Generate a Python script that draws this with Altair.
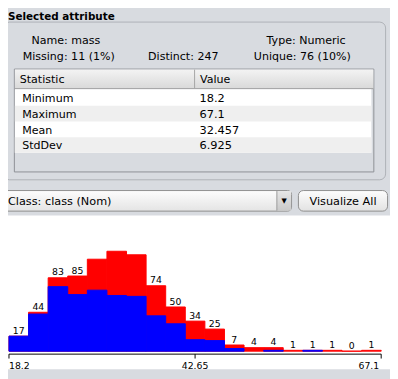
import altair as alt
import pandas as pd

# ---- data (Weka "Selected attribute" panel, attribute mass) ----
attr_name = "mass"
attr_type = "Numeric"
attr_missing = "11 (1%)"
attr_distinct = "247"
attr_unique = "76 (10%)"
class_label = "Class: class (Nom)"
button_label = "Visualize All"

stat_names = ["Minimum", "Maximum", "Mean", "StdDev"]
stat_values = ["18.2", "67.1", "32.457", "6.925"]

bin_min = 18.2
bin_max = 67.1
totals = [17, 44, 83, 85, 104, 113, 109, 74, 50, 34, 25, 7, 4, 4, 1, 1, 1, 0, 1]
negatives = [17, 42, 73, 64, 69, 63, 62, 40, 31, 13, 12, 3, 0, 1, 0, 1, 0, 0, 0]
hidden_label_bins = [4, 5, 6]   # bins whose count label is not drawn (too tall)
tick_values = [18.2, 42.65, 67.1]
tick_labels = ["18.2", "42.65", "67.1"]

# ---- tables built from the arrays ----
n = len(totals)
w = (bin_max - bin_min) / n
hist = pd.DataFrame({
    "lo": [bin_min + i * w for i in range(n)],
    "hi": [bin_min + (i + 1) * w for i in range(n)],
    "mid": [bin_min + (i + 0.5) * w for i in range(n)],
    "total": totals,
    "neg": negatives,
    "show": [i not in hidden_label_bins for i in range(n)],
})
ticks = pd.DataFrame({"v": tick_values, "t": tick_labels, "i": list(range(len(tick_values)))})
axis_df = pd.DataFrame({"a": [bin_min], "b": [bin_max]})
one = pd.DataFrame({"k": [0]})

BG = "#d8dbe0"
FONT = "DejaVu Sans"

xs = alt.Scale(domain=[bin_min, bin_max], range=[1, 381], nice=False, zero=False)
ys = alt.Scale(domain=[0, 100], range=[346.5, 256.2], nice=False, zero=False)


def box(x, y, x2, y2, fill, stroke=None, radius=0):
    kw = dict(fill=fill, cornerRadius=radius)
    if stroke is not None:
        kw.update(stroke=stroke, strokeWidth=1)
    else:
        kw.update(strokeWidth=0)
    return alt.Chart(one).mark_rect(**kw).encode(
        x=alt.value(x), x2=alt.value(x2), y=alt.value(y), y2=alt.value(y2))


def line(x, y, x2, y2, color):
    return alt.Chart(one).mark_rule(color=color, strokeWidth=1).encode(
        x=alt.value(x), x2=alt.value(x2), y=alt.value(y), y2=alt.value(y2))


def label(x, y, s, size=11.3, align="left", weight="normal", baseline="alphabetic"):
    return alt.Chart(one).mark_text(
        align=align, baseline=baseline, fontSize=size, font=FONT,
        fontWeight=weight, color="#000000").encode(
        x=alt.value(x), y=alt.value(y), text=alt.value(s))


def grad(c1, c2):
    return alt.Gradient(gradient="linear",
                        stops=[alt.GradientStop(color=c1, offset=0),
                               alt.GradientStop(color=c2, offset=1)],
                        x1=0, x2=0, y1=0, y2=1)


layers = []
# titled panel
layers.append(label(0, 8.5, "Selected attribute", size=10.6, weight="bold"))
layers.append(box(-4.5, 10.5, 385.5, 171.5, BG, stroke="#aeb1b6", radius=6))
layers.append(label(24, 32.5, "Name: " + attr_name))
layers.append(label(264, 32.5, "Type: " + attr_type))
layers.append(label(15, 49, "Missing: " + attr_missing))
layers.append(label(143, 49, "Distinct: " + attr_distinct))
layers.append(label(251, 49, "Unique: " + attr_unique))

# statistics table
layers.append(box(6.5, 58.5, 373.5, 163.5, BG, stroke="#8c8f94"))
layers.append(box(7, 59, 373, 78.5, grad("#f3f3f3", "#d9d9d9")))
layers.append(line(7, 78.5, 373, 78.5, "#9c9c9c"))
layers.append(line(190.5, 59, 190.5, 78, "#a4a4a4"))
layers.append(label(12, 72.5, "Statistic"))
layers.append(label(196, 72.5, "Value"))
layers.append(box(7, 79, 371, 80 + 16 * len(stat_names), "#ffffff"))
for i, (nm, val) in enumerate(zip(stat_names, stat_values)):
    if i % 2 == 1:
        layers.append(box(7, 80 + 16 * i, 371, 96 + 16 * i, "#efefef"))
    layers.append(label(14.5, 92.5 + 16 * i, nm))
    layers.append(label(195.5, 92.5 + 16 * i, val, size=11.6))

# class combobox and button
layers.append(box(-6, 182.5, 289.5, 203.5, grad("#fdfdfd", "#e4e4e4"), stroke="#8d8d8d", radius=4))
layers.append(box(274.5, 183, 289, 203, grad("#e6e6e6", "#c9c9c9")))
layers.append(line(274.5, 183, 274.5, 203, "#9a9a9a"))
layers.append(label(282, 193, "\u25BC", size=7, align="center", baseline="middle"))
layers.append(label(0, 197.5, class_label, size=11.5))
layers.append(box(296.5, 182.5, 387.5, 203.5, grad("#fdfdfd", "#e2e2e2"), stroke="#8d8d8d", radius=5))
layers.append(label(342, 197.5, button_label, size=11.5, align="center"))

# histogram panel
layers.append(box(-8, 208, 390, 365, "#ffffff"))

base = alt.Chart(hist)
red = base.mark_rect(fill="#ff0000", stroke="#ff0000", strokeWidth=1).encode(
    x=alt.X("lo:Q", scale=xs, axis=None), x2="hi:Q",
    y=alt.Y("total:Q", scale=ys, axis=None), y2=alt.datum(0))
blue = base.transform_filter("datum.neg > 0").mark_rect(
    fill="#0000ff", stroke="#0000ff", strokeWidth=1).encode(
    x=alt.X("lo:Q", scale=xs, axis=None), x2="hi:Q",
    y=alt.Y("neg:Q", scale=ys, axis=None), y2=alt.datum(0))
counts = base.transform_filter("datum.show").mark_text(
    baseline="alphabetic", align="center", dy=-2.5, fontSize=9.5, font=FONT, color="#000000").encode(
    x=alt.X("mid:Q", scale=xs, axis=None),
    y=alt.Y("total:Q", scale=ys, axis=None),
    text="total:Q")
layers += [red, blue, counts]

axis_line = alt.Chart(axis_df).mark_rule(color="#000000", strokeWidth=1).encode(
    x=alt.X("a:Q", scale=xs, axis=None), x2="b:Q", y=alt.value(349.5))
tick_marks = alt.Chart(ticks).mark_rule(color="#000000", strokeWidth=1).encode(
    x=alt.X("v:Q", scale=xs, axis=None), y=alt.value(349.5), y2=alt.value(354))
layers += [axis_line, tick_marks]
for idx, (al, dx) in enumerate([("left", 0), ("center", 0), ("right", -2)]):
    layers.append(alt.Chart(ticks).transform_filter(f"datum.i == {idx}").mark_text(
        align=al, dx=dx, baseline="alphabetic", fontSize=9.5, font=FONT, color="#000000").encode(
        x=alt.X("v:Q", scale=xs, axis=None), y=alt.value(365), text="t:N"))

chart = alt.layer(*layers).properties(
    width=390, height=371, padding=0, autosize="none", background=BG
).configure_view(strokeWidth=0)

chart.save("out.html", embed_options={"renderer": "svg", "actions": False})
